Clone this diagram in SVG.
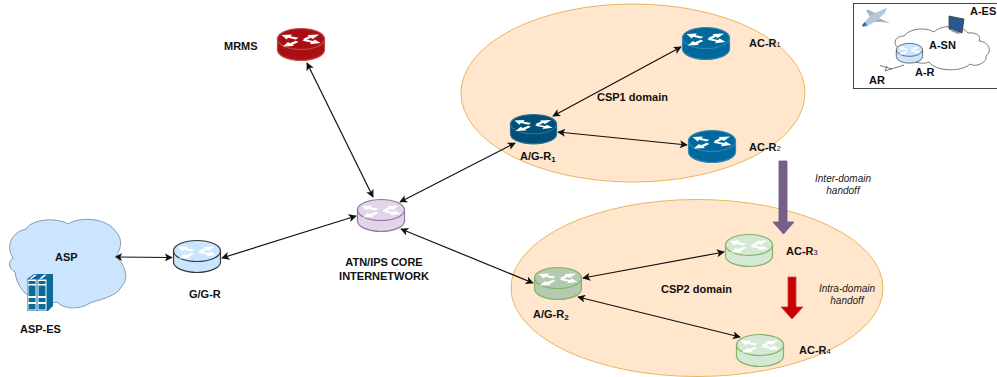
<svg xmlns="http://www.w3.org/2000/svg" width="997" height="377" viewBox="0 0 997 377">
<style>
text{font-family:"Liberation Sans",Arial,sans-serif;font-size:11px;font-weight:700;fill:#111}
.it{font-style:italic;font-weight:400;font-size:10px;fill:#222}
.sub{font-size:7.5px;font-weight:400}
.dom{fill:#ffe6cc;stroke:#e8b75e;stroke-width:1}
.r{stroke-width:1.2}
.red{fill:#a80f12;stroke:#c04a4a}
.navy{fill:#004f78;stroke:#2c6f93}
.blue{fill:#00689c;stroke:#2f86b2}
.pur{fill:#e1d5e7;stroke:#9673a6}
.sky{fill:#cce5ff;stroke:#36393d}
.grn{fill:#d5e8d4;stroke:#82b366}
.dgr{fill:#b3c9b0;stroke:#82b366}
.c{fill:none;stroke:#111;stroke-width:1.2;marker-start:url(#a);marker-end:url(#a)}
</style>
<defs>
<marker id="a" viewBox="0 0 10 10" refX="9" refY="5" markerWidth="8" markerHeight="8" markerUnits="userSpaceOnUse" orient="auto-start-reverse"><path d="M0 0L10 5L0 10L2.5 5Z" fill="#111"/></marker>
<g id="rt">
<path d="M.5 11V22A23.5 10.5 0 0 0 47.5 22V11Z"/>
<ellipse cx="24" cy="11" rx="23.5" ry="10.5"/>
<path fill="#fff" stroke="none" transform="translate(24,11) scale(1.3,1.15) translate(-24,-11)" d="M9 7.500L17 7L16 8.500L22 10L20 11.500L14 10L13 11.500ZM38 7L33 11L31.500 10L27.500 12.500L25.500 11L30 8.500L29 7.500ZM9.900 17.600L14 13.600L15.500 14.600L20 12.500L22 13.600L17.500 16L18.500 17ZM39 14.500L31 15.500L31.800 14L25 12.600L27 11.500L33.500 12.800L34.500 11.500Z"/>
</g>
</defs>

<g id="domains">
<ellipse id="csp1" class="dom" cx="633" cy="93" rx="172" ry="89"/>
<ellipse id="csp2" class="dom" cx="697" cy="288" rx="186" ry="88.500"/>
</g>

<g id="connectors">
<path class="c" d="M307 63L373 197"/>
<path class="c" d="M115 257L172 257.500"/>
<path class="c" d="M222 258L356 216"/>
<path class="c" d="M400 202L515 143"/>
<path class="c" d="M401 229L533 283"/>
<path class="c" d="M553 116L681 47"/>
<path class="c" d="M558 132L687 145"/>
<path class="c" d="M583 278L724 252"/>
<path class="c" d="M578 297L740 337"/>
</g>

<g id="mrms"><g class="r red" transform="translate(277,28)"><use href="#rt"/></g><text x="224" y="49.500">MRMS</text></g>
<g id="ag-r1"><g class="r navy" transform="translate(510,114) scale(.98,.92)"><use href="#rt"/></g><text x="520" y="160">A/G-R<tspan font-size="8" dy="2">1</tspan></text></g>
<g id="ac-r1"><g class="r blue" transform="translate(682,27)"><use href="#rt"/></g><text x="749" y="47">AC-R<tspan class="sub">1</tspan></text></g>
<g id="ac-r2"><g class="r blue" transform="translate(688,130)"><use href="#rt"/></g><text x="749" y="151">AC-R<tspan class="sub">2</tspan></text></g>
<g id="atn"><g class="r pur" transform="translate(357,199)"><use href="#rt"/></g><text x="384" y="266" text-anchor="middle">ATN/IPS CORE</text><text x="384" y="280" text-anchor="middle">INTERNETWORK</text></g>
<g id="gg-r"><g class="r sky" transform="translate(173,240)"><use href="#rt"/></g><text x="189" y="298">G/G-R</text></g>
<g id="ag-r2"><g class="r dgr" transform="translate(534,267)"><use href="#rt"/></g><text x="533" y="318">A/G-R<tspan font-size="8" dy="2">2</tspan></text></g>
<g id="ac-r3"><g class="r grn" transform="translate(725,234)"><use href="#rt"/></g><text x="786" y="255">AC-R<tspan class="sub">3</tspan></text></g>
<g id="ac-r4"><g class="r grn" transform="translate(736,334)"><use href="#rt"/></g><text x="799" y="354">AC-R<tspan class="sub">4</tspan></text></g>

<g id="asp">
<path fill="#cce5ff" stroke="#8a9aa8" stroke-width="1" d="M13 258C5 246 12 232 26 229C32 219 56 217 68 224C80 216 108 218 116 232C124 240 120 252 115 257C124 262 130 278 122 286C116 298 96 300 90 303C78 311 62 308 57 302C40 306 18 296 15 272C8 268 8 262 13 258Z"/>
<text x="55" y="261">ASP</text>
<g id="asp-es-icon">
<path fill="#0a6a9a" d="M27 279L34 274H53V306L48 311H27Z"/>
<path fill="#fff" d="M27.500 279.500H36.500V310.500H27.500ZM37.500 279.500H46.500V310.500H37.500ZM34.500 274.800H37L32 278.800H29.500ZM44 274.800H46.800L41.800 278.800H39.300Z"/>
<path fill="#0a6a9a" d="M28.500 281H35.500V284H28.500ZM38.500 281H45.500V284H38.500ZM28.500 285.500H35.500V296H28.500ZM38.500 285.500H45.500V296H38.500ZM28.500 298H35.500V302H28.500ZM38.500 298H45.500V302H38.500ZM28.500 304H35.500V309.500H28.500ZM38.500 304H45.500V309.500H38.500Z"/>
</g>
<text x="20" y="333">ASP-ES</text>
</g>

<g id="inter-handoff">
<path fill="#76608a" stroke="#6a5580" stroke-width=".8" d="M779 161H787V222H794L783.500 234L773 222H779Z"/>
<text class="it" x="843" y="182" text-anchor="middle">Inter-domain</text>
<text class="it" x="843" y="194" text-anchor="middle">handoff</text>
</g>
<g id="intra-handoff">
<path fill="#c80000" stroke="#c84040" stroke-width=".8" d="M788 277H796V307H803L792 319L781 307H788Z"/>
<text class="it" x="847" y="292" text-anchor="middle">Intra-domain</text>
<text class="it" x="847" y="304" text-anchor="middle">handoff</text>
</g>
<text id="csp1-label" x="597" y="100.500">CSP1 domain</text>
<text id="csp2-label" x="661" y="293">CSP2 domain</text>

<g id="inset">
<rect x="853.500" y="3.500" width="150" height="85" fill="#fff" stroke="#444" stroke-width="1"/>
<path fill="#fff" stroke="#444" stroke-width=".7" d="M900 49C892 45 894 36 904 36C910 28 926 27 934 32C942 24 962 25 968 33C976 32 982 36 979 41C990 42 992 52 986 56C988 62 976 68 970 64C962 72 936 72 929 62C920 66 908 60 900 49Z"/>
<g id="plane">
<path fill="#a9b4bd" d="M870 17L866 10L869 10L879 15ZM871 22L881 22L890 23L879 18Z"/>
<path fill="#b7c8dc" d="M862 25L871 15L884 9L887 8L885 13L876 21L866 27Z"/>
<path fill="#2e6fb5" d="M862 25L865 22L867 25L863 27Z"/>
</g>
<g id="monitor">
<path fill="#27598c" stroke="#333" stroke-width=".7" d="M949 16L964 19L962 33L949 29Z"/>
<path fill="#999" d="M951 29L961 33L958 34L951 31Z"/>
</g>
<g class="r sky" stroke-width="1" transform="translate(896,43) scale(.56,.62)"><use href="#rt"/></g>
<path fill="none" stroke="#555" stroke-width=".8" d="M885 71L904 65M887 66L885 71M880 65.500L892 69"/>
<text x="929" y="49">A-SN</text>
<text x="970" y="15">A-ES</text>
<text x="915" y="76">A-R</text>
<text x="869" y="84">AR</text>
</g>
</svg>
